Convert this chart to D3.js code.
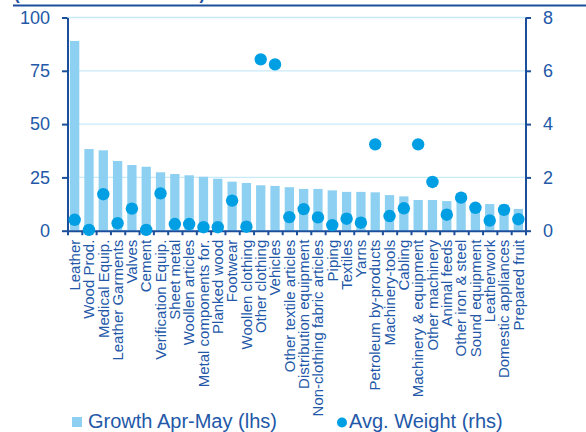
<!DOCTYPE html>
<html>
<head>
<meta charset="utf-8">
<script src="https://cdn.jsdelivr.net/npm/d3@7"></script>
<style>
  html, body { margin: 0; padding: 0; background: #fff; }
  svg { display: block; font-family: "Liberation Sans", Arial, sans-serif; }
</style>
</head>
<body>
<svg id="chart" width="586" height="432"></svg>
<script>
// Product categories, ordered by growth
const categories = [
  "Leather", "Wood Prod.", "Medical Equip.", "Leather Garments", "Valves", "Cement",
  "Verification Equip.", "Sheet metal", "Woollen articles", "Metal components for.",
  "Planked wood", "Footwear", "Woollen clothing", "Other clothing", "Vehicles",
  "Other textile articles", "Distribution equipment", "Non-clothing fabric articles",
  "Piping", "Textiles", "Yarns", "Petroleum by-products", "Machinery-tools", "Cabling",
  "Machinery & equipment", "Other machinery", "Animal feeds", "Other iron & steel",
  "Sound equipment", "Leatherwork", "Domestic appliances", "Prepared fruit"
];
// Growth Apr-May, % (left axis)
const growth = [
  89.0, 38.3, 37.7, 32.7, 30.8, 30.0, 27.4, 26.6, 26.0, 25.3, 24.4, 23.0, 22.4, 21.3, 21.0, 20.4,
  19.6, 19.6, 18.9, 18.2, 18.2, 18.0, 16.7, 16.1, 14.4, 14.4, 13.9, 13.6, 12.8, 12.5, 12.3, 10.2
];
// Average weight, % (right axis)
const weight = [
  0.41, 0.03, 1.37, 0.28, 0.83, 0.03, 1.40, 0.25, 0.25, 0.13, 0.13, 1.13, 0.15, 6.43, 6.24, 0.51,
  0.81, 0.50, 0.21, 0.45, 0.30, 3.24, 0.55, 0.84, 3.24, 1.83, 0.60, 1.24, 0.86, 0.38, 0.78, 0.43
];
const leftTicks = [0, 25, 50, 75, 100];
const rightTicks = [0, 2, 4, 6, 8];
const legendLabels = ["Growth Apr-May (lhs)", "Avg. Weight (rhs)"];

const AXIS = "#1b4f9c", TEXT = "#2358a8", BAR = "#8dd0f2", DOT = "#009fe3", GRID = "#c8e9f8";

const svg = d3.select("#chart");
const x0 = 67.5, x1 = 525.5, yTop = 17.5, yBot = 230.7;

const x = d3.scaleBand().domain(categories).range([x0, x1]).paddingInner(0.35).paddingOuter(0.175);
const yL = d3.scaleLinear().domain([0, 100]).range([yBot, yTop]);
const yR = d3.scaleLinear().domain([0, 8]).range([yBot, yTop]);

// title strip across the top (runs off the top edge)
svg.append("text")
  .attr("x", 14).attr("y", -0.8)
  .attr("fill", AXIS).attr("font-size", 19).attr("font-weight", "bold")
  .attr("textLength", 191).attr("lengthAdjust", "spacingAndGlyphs")
  .text("(Growth rate and Share)");
svg.append("line").attr("x1", 13).attr("x2", 586).attr("y1", 5.5).attr("y2", 5.5)
  .attr("stroke", AXIS).attr("stroke-width", 2);

// gridlines
svg.append("g").selectAll("line").data(leftTicks.filter(d => d > 0)).join("line")
  .attr("x1", x0).attr("x2", x1)
  .attr("y1", d => yL(d)).attr("y2", d => yL(d))
  .attr("stroke", GRID).attr("stroke-width", 1.3);

// bars
svg.append("g").selectAll("rect").data(categories).join("rect")
  .attr("x", d => x(d))
  .attr("width", x.bandwidth())
  .attr("y", (d, i) => yL(growth[i]))
  .attr("height", (d, i) => yBot - yL(growth[i]))
  .attr("fill", BAR);

function styleAxis(g) {
  g.selectAll(".domain").attr("stroke", AXIS).attr("stroke-width", 2);
  g.selectAll(".tick line").attr("stroke", AXIS).attr("stroke-width", 2);
  g.selectAll("text").attr("fill", TEXT);
}

// left axis
svg.append("g").attr("transform", `translate(${x0},0)`)
  .call(d3.axisLeft(yL).tickValues(leftTicks).tickSize(5.5).tickSizeOuter(0).tickPadding(12))
  .call(styleAxis)
  .call(g => g.selectAll("text").attr("font-size", 18).attr("font-family", "Liberation Sans, Arial, sans-serif"));

// right axis
svg.append("g").attr("transform", `translate(${x1},0)`)
  .call(d3.axisRight(yR).tickValues(rightTicks).tickSize(5.5).tickSizeOuter(0).tickPadding(12))
  .call(styleAxis)
  .call(g => g.selectAll("text").attr("font-size", 18).attr("font-family", "Liberation Sans, Arial, sans-serif"));

// bottom axis: boundary ticks
const xEdges = d3.scaleLinear().domain([0, categories.length]).range([x0, x1]);
svg.append("g").attr("transform", `translate(0,${yBot})`)
  .call(d3.axisBottom(xEdges).tickValues(d3.range(categories.length + 1)).tickFormat("").tickSize(4.5).tickSizeOuter(0))
  .call(styleAxis);

// bottom axis: rotated category labels
svg.append("g").attr("transform", `translate(0,${yBot})`)
  .call(d3.axisBottom(x).tickSize(0).tickPadding(0))
  .call(g => g.select(".domain").remove())
  .call(g => g.selectAll("text")
    .attr("transform", "rotate(-90)")
    .attr("x", -9).attr("y", 0).attr("dy", "0.35em")
    .attr("text-anchor", "end")
    .attr("fill", TEXT)
    .attr("font-size", 15)
    .attr("font-family", "Liberation Sans, Arial, sans-serif"));

// weight dots
svg.append("g").selectAll("circle").data(categories).join("circle")
  .attr("cx", d => x(d) + x.bandwidth() / 2)
  .attr("cy", (d, i) => yR(weight[i]))
  .attr("r", 6.2)
  .attr("fill", DOT);

// legend
const lg = svg.append("g").attr("font-size", 20).attr("fill", TEXT);
lg.append("rect").attr("x", 72).attr("y", 417).attr("width", 10).attr("height", 10).attr("fill", BAR);
lg.append("text").attr("x", 88).attr("y", 428).text(legendLabels[0]);
lg.append("circle").attr("cx", 342).attr("cy", 422.5).attr("r", 5).attr("fill", DOT);
lg.append("text").attr("x", 349).attr("y", 428).text(legendLabels[1]);
</script>
</body>
</html>
